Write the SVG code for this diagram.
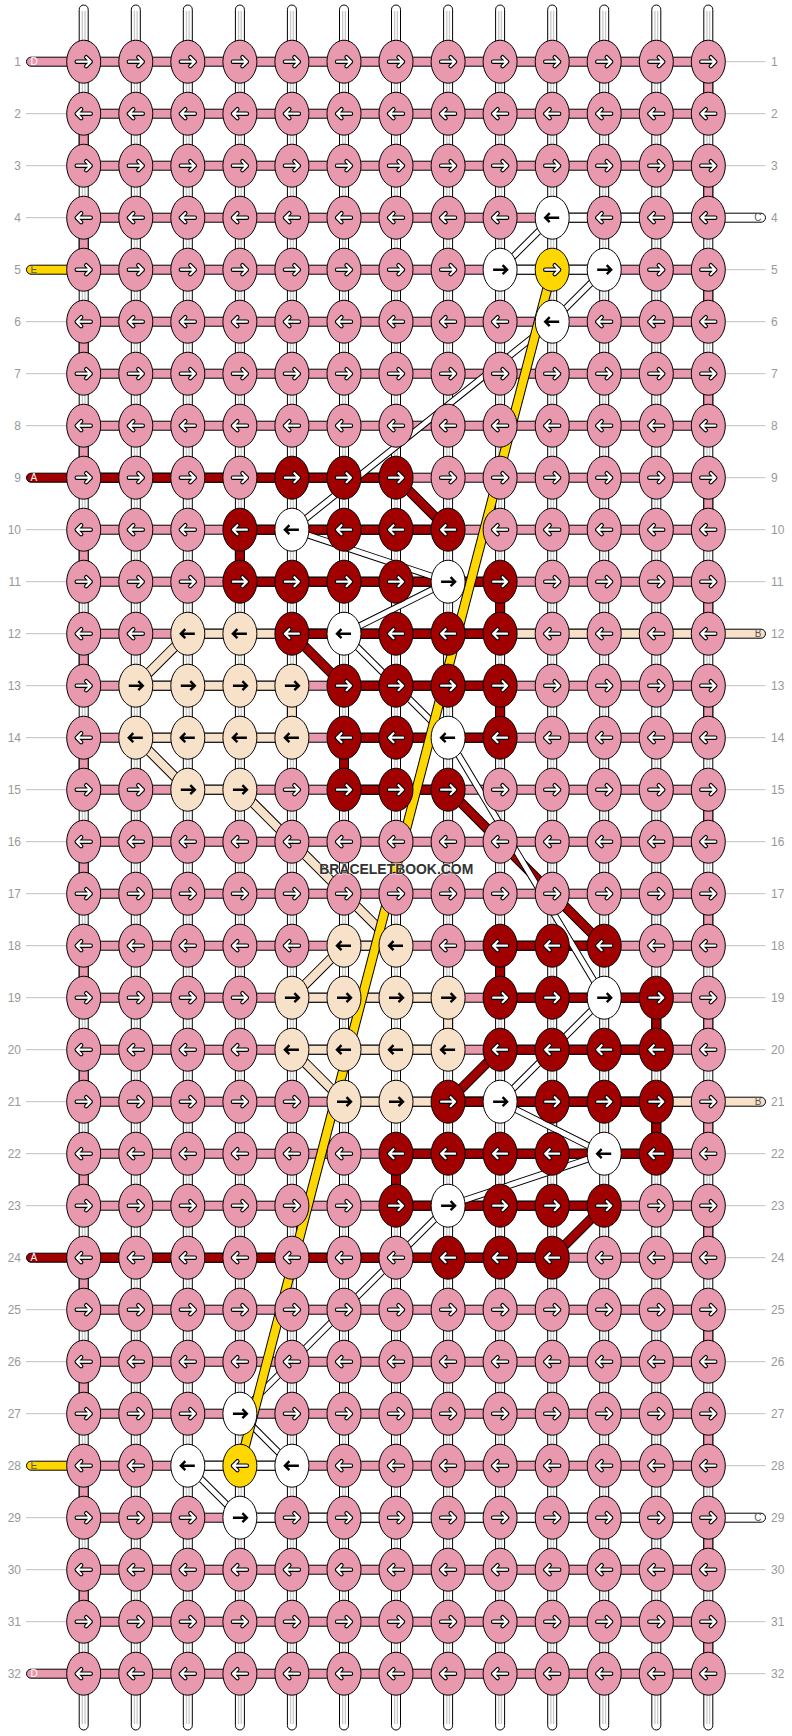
<svg xmlns="http://www.w3.org/2000/svg" width="792" height="1736" viewBox="0 0 792 1736">
<style>
.wp{fill:#fff;stroke:#000;stroke-width:1}
.s1{stroke:#c8c8c8;stroke-width:4}
.s2{stroke:#fff;stroke-width:1.4}
.gl{fill:none;stroke:#c0c0c0;stroke-width:1}
.lb{font-family:"Liberation Sans",Arial,sans-serif;font-size:12px;fill:#999}
.le{font-family:"Liberation Sans",Arial,sans-serif;font-size:10px;fill:#fff}
.ld{font-family:"Liberation Sans",Arial,sans-serif;font-size:10px;fill:#555}
.hp{fill:#e899ae;stroke:#000;stroke-width:1}
.hr{fill:#a00000;stroke:#000;stroke-width:1}
.hb{fill:#f7e1c9;stroke:#000;stroke-width:1}
.hw{fill:#fff;stroke:#000;stroke-width:1}
.hy{fill:#ffd700;stroke:#000;stroke-width:1}
.kp{fill:#e899ae;stroke:#000;stroke-width:1}
.kr{fill:#a00000;stroke:#000;stroke-width:1}
.kb{fill:#f7e1c9;stroke:#000;stroke-width:1}
.kw{fill:#fff;stroke:#000;stroke-width:1}
.ky{fill:#ffd700;stroke:#000;stroke-width:1}
.ab{fill:none;stroke:#000;stroke-width:4.4;stroke-linecap:round;stroke-linejoin:round}
.aw{fill:none;stroke:#fff;stroke-width:2.2;stroke-linecap:round;stroke-linejoin:round}
.ak{fill:none;stroke:#000;stroke-width:2.4}
.d0{fill:none;stroke:#000;stroke-width:10}
.dr{fill:none;stroke:#a00000;stroke-width:8}
.db{fill:none;stroke:#f7e1c9;stroke-width:8}
.dy{fill:none;stroke:#ffd700;stroke-width:8}
.c0{fill:none;stroke:#000;stroke-width:7;stroke-linejoin:round}
.cw{fill:none;stroke:#fff;stroke-width:5;stroke-linejoin:round}
.wm{font-family:"Liberation Sans",Arial,sans-serif;font-weight:bold;font-size:15.5px;fill:#333;stroke:#fff;stroke-width:1.5;stroke-opacity:.6;paint-order:stroke}
</style>
<defs>
<path id="ar" d="M-7,0H7M2.5,-4.5L7,0L2.5,4.5"/>
<path id="al" d="M7,0H-7M-2.5,-4.5L-7,0L-2.5,4.5"/>
<ellipse id="e" rx="17" ry="21.5"/>
<g id="oR"><use href="#ar" class="ab"/><use href="#ar" class="aw"/></g>
<g id="oL"><use href="#al" class="ab"/><use href="#al" class="aw"/></g>
<g id="pR"><use href="#e" class="kp"/><use href="#oR"/></g>
<g id="pL"><use href="#e" class="kp"/><use href="#oL"/></g>
<g id="rR"><use href="#e" class="kr"/><use href="#oR"/></g>
<g id="rL"><use href="#e" class="kr"/><use href="#oL"/></g>
<g id="yR"><use href="#e" class="ky"/><use href="#oR"/></g>
<g id="yL"><use href="#e" class="ky"/><use href="#oL"/></g>
<g id="wR"><use href="#e" class="kw"/><use href="#ar" class="ak"/></g>
<g id="wL"><use href="#e" class="kw"/><use href="#al" class="ak"/></g>
<g id="bR"><use href="#e" class="kb"/><use href="#ar" class="ak"/></g>
<g id="bL"><use href="#e" class="kb"/><use href="#al" class="ak"/></g>
</defs>
<rect width="792" height="1736" fill="#fff"/>
<g id="warps">
<rect class="wp" x="79.2" y="5" width="9" height="1725" rx="4.5"/>
<rect class="wp" x="131.3" y="5" width="9" height="1725" rx="4.5"/>
<rect class="wp" x="183.3" y="5" width="9" height="1725" rx="4.5"/>
<rect class="wp" x="235.4" y="5" width="9" height="1725" rx="4.5"/>
<rect class="wp" x="287.4" y="5" width="9" height="1725" rx="4.5"/>
<rect class="wp" x="339.5" y="5" width="9" height="1725" rx="4.5"/>
<rect class="wp" x="391.5" y="5" width="9" height="1725" rx="4.5"/>
<rect class="wp" x="443.6" y="5" width="9" height="1725" rx="4.5"/>
<rect class="wp" x="495.6" y="5" width="9" height="1725" rx="4.5"/>
<rect class="wp" x="547.7" y="5" width="9" height="1725" rx="4.5"/>
<rect class="wp" x="599.7" y="5" width="9" height="1725" rx="4.5"/>
<rect class="wp" x="651.8" y="5" width="9" height="1725" rx="4.5"/>
<rect class="wp" x="703.8" y="5" width="9" height="1725" rx="4.5"/>
<path class="s1" d="M83.7,11V1724M135.8,11V1724M187.8,11V1724M239.9,11V1724M291.9,11V1724M344,11V1724M396,11V1724M448.1,11V1724M500.1,11V1724M552.2,11V1724M604.2,11V1724M656.3,11V1724M708.3,11V1724"/>
<path class="s2" d="M83.7,11V1724M135.8,11V1724M187.8,11V1724M239.9,11V1724M291.9,11V1724M344,11V1724M396,11V1724M448.1,11V1724M500.1,11V1724M552.2,11V1724M604.2,11V1724M656.3,11V1724M708.3,11V1724"/>
</g>
<g id="guides">
<path class="gl" d="M26,113.7H80M26,165.7H80M26,217.7H80M26,321.7H80M26,373.7H80M26,425.7H80M26,529.7H80M26,581.7H80M26,633.7H80M26,685.7H80M26,737.7H80M26,789.7H80M26,841.7H80M26,893.7H80M26,945.7H80M26,997.7H80M26,1049.7H80M26,1101.7H80M26,1153.7H80M26,1205.7H80M26,1309.7H80M26,1361.7H80M26,1413.7H80M26,1517.7H80M26,1569.7H80M26,1621.7H80"/>
<path class="gl" d="M712,61.7H765.5M712,113.7H765.5M712,165.7H765.5M712,269.7H765.5M712,321.7H765.5M712,373.7H765.5M712,425.7H765.5M712,477.7H765.5M712,529.7H765.5M712,581.7H765.5M712,685.7H765.5M712,737.7H765.5M712,789.7H765.5M712,841.7H765.5M712,893.7H765.5M712,945.7H765.5M712,997.7H765.5M712,1049.7H765.5M712,1153.7H765.5M712,1205.7H765.5M712,1257.7H765.5M712,1309.7H765.5M712,1361.7H765.5M712,1413.7H765.5M712,1465.7H765.5M712,1569.7H765.5M712,1621.7H765.5M712,1673.7H765.5"/>
<g class="lb" text-anchor="end">
<text x="21" y="66">1</text><text x="21" y="118">2</text><text x="21" y="170">3</text><text x="21" y="222">4</text><text x="21" y="274">5</text><text x="21" y="326">6</text><text x="21" y="378">7</text><text x="21" y="430">8</text><text x="21" y="482">9</text><text x="21" y="534">10</text><text x="21" y="586">11</text><text x="21" y="638">12</text><text x="21" y="690">13</text><text x="21" y="742">14</text><text x="21" y="794">15</text><text x="21" y="846">16</text><text x="21" y="898">17</text><text x="21" y="950">18</text><text x="21" y="1002">19</text><text x="21" y="1054">20</text><text x="21" y="1106">21</text><text x="21" y="1158">22</text><text x="21" y="1210">23</text><text x="21" y="1262">24</text><text x="21" y="1314">25</text><text x="21" y="1366">26</text><text x="21" y="1418">27</text><text x="21" y="1470">28</text><text x="21" y="1522">29</text><text x="21" y="1574">30</text><text x="21" y="1626">31</text><text x="21" y="1678">32</text>
</g>
<g class="lb">
<text x="771" y="66">1</text><text x="771" y="118">2</text><text x="771" y="170">3</text><text x="771" y="222">4</text><text x="771" y="274">5</text><text x="771" y="326">6</text><text x="771" y="378">7</text><text x="771" y="430">8</text><text x="771" y="482">9</text><text x="771" y="534">10</text><text x="771" y="586">11</text><text x="771" y="638">12</text><text x="771" y="690">13</text><text x="771" y="742">14</text><text x="771" y="794">15</text><text x="771" y="846">16</text><text x="771" y="898">17</text><text x="771" y="950">18</text><text x="771" y="1002">19</text><text x="771" y="1054">20</text><text x="771" y="1106">21</text><text x="771" y="1158">22</text><text x="771" y="1210">23</text><text x="771" y="1262">24</text><text x="771" y="1314">25</text><text x="771" y="1366">26</text><text x="771" y="1418">27</text><text x="771" y="1470">28</text><text x="771" y="1522">29</text><text x="771" y="1574">30</text><text x="771" y="1626">31</text><text x="771" y="1678">32</text>
</g>
</g>
<g id="connectors">
<g id="rows-base">
<rect class="hp" x="83.7" y="57.2" width="624.6" height="9"/><rect class="hp" x="83.7" y="109.2" width="624.6" height="9"/><rect class="hp" x="83.7" y="161.2" width="624.6" height="9"/><rect class="hp" x="83.7" y="213.2" width="624.6" height="9"/><rect class="hp" x="83.7" y="265.2" width="624.6" height="9"/><rect class="hp" x="83.7" y="317.2" width="624.6" height="9"/><rect class="hp" x="83.7" y="369.2" width="624.6" height="9"/><rect class="hp" x="83.7" y="421.2" width="624.6" height="9"/><rect class="hp" x="83.7" y="473.2" width="624.6" height="9"/><rect class="hp" x="83.7" y="525.2" width="624.6" height="9"/><rect class="hp" x="83.7" y="577.2" width="624.6" height="9"/><rect class="hp" x="83.7" y="629.2" width="624.6" height="9"/><rect class="hp" x="83.7" y="681.2" width="624.6" height="9"/><rect class="hp" x="83.7" y="733.2" width="624.6" height="9"/><rect class="hp" x="83.7" y="785.2" width="624.6" height="9"/><rect class="hp" x="83.7" y="837.2" width="624.6" height="9"/><rect class="hp" x="83.7" y="889.2" width="624.6" height="9"/><rect class="hp" x="83.7" y="941.2" width="624.6" height="9"/><rect class="hp" x="83.7" y="993.2" width="624.6" height="9"/><rect class="hp" x="83.7" y="1045.2" width="624.6" height="9"/><rect class="hp" x="83.7" y="1097.2" width="624.6" height="9"/><rect class="hp" x="83.7" y="1149.2" width="624.6" height="9"/><rect class="hp" x="83.7" y="1201.2" width="624.6" height="9"/><rect class="hp" x="83.7" y="1253.2" width="624.6" height="9"/><rect class="hp" x="83.7" y="1305.2" width="624.6" height="9"/><rect class="hp" x="83.7" y="1357.2" width="624.6" height="9"/><rect class="hp" x="83.7" y="1409.2" width="624.6" height="9"/><rect class="hp" x="83.7" y="1461.2" width="624.6" height="9"/><rect class="hp" x="83.7" y="1513.2" width="624.6" height="9"/><rect class="hp" x="83.7" y="1565.2" width="624.6" height="9"/><rect class="hp" x="83.7" y="1617.2" width="624.6" height="9"/><rect class="hp" x="83.7" y="1669.2" width="624.6" height="9"/>
</g>
<g id="turns">
<rect class="hp" x="703.8" y="61.7" width="9" height="52"/><rect class="hp" x="703.8" y="165.7" width="9" height="52"/><rect class="hp" x="703.8" y="269.7" width="9" height="52"/><rect class="hp" x="703.8" y="373.7" width="9" height="52"/><rect class="hp" x="703.8" y="477.7" width="9" height="52"/><rect class="hp" x="703.8" y="581.7" width="9" height="52"/><rect class="hp" x="703.8" y="685.7" width="9" height="52"/><rect class="hp" x="703.8" y="789.7" width="9" height="52"/><rect class="hp" x="703.8" y="893.7" width="9" height="52"/><rect class="hp" x="703.8" y="997.7" width="9" height="52"/><rect class="hp" x="703.8" y="1101.7" width="9" height="52"/><rect class="hp" x="703.8" y="1205.7" width="9" height="52"/><rect class="hp" x="703.8" y="1309.7" width="9" height="52"/><rect class="hp" x="703.8" y="1413.7" width="9" height="52"/><rect class="hp" x="703.8" y="1517.7" width="9" height="52"/><rect class="hp" x="703.8" y="1621.7" width="9" height="52"/>
<rect class="hp" x="79.2" y="113.7" width="9" height="52"/><rect class="hp" x="79.2" y="217.7" width="9" height="52"/><rect class="hp" x="79.2" y="321.7" width="9" height="52"/><rect class="hp" x="79.2" y="425.7" width="9" height="52"/><rect class="hp" x="79.2" y="529.7" width="9" height="52"/><rect class="hp" x="79.2" y="633.7" width="9" height="52"/><rect class="hp" x="79.2" y="737.7" width="9" height="52"/><rect class="hp" x="79.2" y="841.7" width="9" height="52"/><rect class="hp" x="79.2" y="945.7" width="9" height="52"/><rect class="hp" x="79.2" y="1049.7" width="9" height="52"/><rect class="hp" x="79.2" y="1153.7" width="9" height="52"/><rect class="hp" x="79.2" y="1257.7" width="9" height="52"/><rect class="hp" x="79.2" y="1361.7" width="9" height="52"/><rect class="hp" x="79.2" y="1465.7" width="9" height="52"/><rect class="hp" x="79.2" y="1569.7" width="9" height="52"/>
<rect class="hr" x="235.4" y="529.7" width="9" height="52"/><rect class="hr" x="495.6" y="581.7" width="9" height="52"/><rect class="hr" x="495.6" y="685.7" width="9" height="52"/><rect class="hr" x="339.5" y="737.7" width="9" height="52"/><rect class="hr" x="495.6" y="945.7" width="9" height="52"/><rect class="hr" x="651.8" y="997.7" width="9" height="52"/><rect class="hr" x="651.8" y="1101.7" width="9" height="52"/><rect class="hr" x="391.5" y="1153.7" width="9" height="52"/>
<rect class="hb" x="287.4" y="685.7" width="9" height="52"/><rect class="hb" x="443.6" y="997.7" width="9" height="52"/>
</g>
<g id="rows-color">
<rect class="hw" x="552.2" y="213.2" width="156.1" height="9"/>
<rect class="hw" x="500.1" y="265.2" width="104.1" height="9"/>
<rect class="hr" x="83.7" y="473.2" width="312.3" height="9"/>
<rect class="hr" x="239.9" y="525.2" width="208.2" height="9"/>
<rect class="hr" x="239.9" y="577.2" width="260.2" height="9"/>
<rect class="hb" x="187.8" y="629.2" width="520.5" height="9"/><rect class="hr" x="291.9" y="629.2" width="208.2" height="9"/>
<rect class="hb" x="135.8" y="681.2" width="156.1" height="9"/><rect class="hr" x="344" y="681.2" width="156.1" height="9"/>
<rect class="hb" x="135.8" y="733.2" width="156.1" height="9"/><rect class="hr" x="344" y="733.2" width="156.1" height="9"/>
<rect class="hb" x="187.8" y="785.2" width="52.1" height="9"/><rect class="hr" x="344" y="785.2" width="104.1" height="9"/>
<rect class="hb" x="344" y="941.2" width="52" height="9"/><rect class="hr" x="500.1" y="941.2" width="104.1" height="9"/>
<rect class="hb" x="291.9" y="993.2" width="156.2" height="9"/><rect class="hr" x="500.1" y="993.2" width="156.2" height="9"/>
<rect class="hb" x="291.9" y="1045.2" width="156.2" height="9"/><rect class="hr" x="500.1" y="1045.2" width="156.2" height="9"/>
<rect class="hb" x="344" y="1097.2" width="364.3" height="9"/><rect class="hr" x="448.1" y="1097.2" width="208.2" height="9"/>
<rect class="hr" x="396" y="1149.2" width="260.3" height="9"/>
<rect class="hr" x="396" y="1201.2" width="208.2" height="9"/>
<rect class="hr" x="83.7" y="1253.2" width="468.5" height="9"/>
<rect class="hw" x="187.8" y="1461.2" width="104.1" height="9"/>
<rect class="hw" x="239.9" y="1513.2" width="468.4" height="9"/>
</g>
<g id="ends">
<rect class="hp" x="26.5" y="57.2" width="60" height="9" rx="4.5"/><text class="le" x="30.5" y="65.3">D</text>
<rect class="hy" x="26.5" y="265.2" width="60" height="9" rx="4.5"/><text class="ld" x="30.5" y="273.3">E</text>
<rect class="hr" x="26.5" y="473.2" width="60" height="9" rx="4.5"/><text class="le" x="30.5" y="481.3">A</text>
<rect class="hr" x="26.5" y="1253.2" width="60" height="9" rx="4.5"/><text class="le" x="30.5" y="1261.3">A</text>
<rect class="hy" x="26.5" y="1461.2" width="60" height="9" rx="4.5"/><text class="ld" x="30.5" y="1469.3">E</text>
<rect class="hp" x="26.5" y="1669.2" width="60" height="9" rx="4.5"/><text class="le" x="30.5" y="1677.3">D</text>
<rect class="hw" x="705" y="213.2" width="60.5" height="9" rx="4.5"/><text class="ld" x="761.5" y="221.3" text-anchor="end">C</text>
<rect class="hb" x="705" y="629.2" width="60.5" height="9" rx="4.5"/><text class="ld" x="761.5" y="637.3" text-anchor="end">B</text>
<rect class="hb" x="705" y="1097.2" width="60.5" height="9" rx="4.5"/><text class="ld" x="761.5" y="1105.3" text-anchor="end">B</text>
<rect class="hw" x="705" y="1513.2" width="60.5" height="9" rx="4.5"/><text class="ld" x="761.5" y="1521.3" text-anchor="end">C</text>
</g>
<g id="diagonals">
<path class="d0" d="M396,477.7L448.1,529.7M291.9,633.7L344,685.7M448.1,789.7L604.2,945.7M500.1,1049.7L448.1,1101.7M604.2,1205.7L552.2,1257.7"/>
<path class="dr" d="M396,477.7L448.1,529.7M291.9,633.7L344,685.7M448.1,789.7L604.2,945.7M500.1,1049.7L448.1,1101.7M604.2,1205.7L552.2,1257.7"/>
<path class="d0" d="M187.8,633.7L135.8,685.7M135.8,737.7L187.8,789.7M239.9,789.7L396,945.7M344,945.7L291.9,997.7M291.9,1049.7L344,1101.7"/>
<path class="db" d="M187.8,633.7L135.8,685.7M135.8,737.7L187.8,789.7M239.9,789.7L396,945.7M344,945.7L291.9,997.7M291.9,1049.7L344,1101.7"/>
<path class="c0" d="M552.2,217.7L500.1,269.7M604.2,269.7L552.2,321.7L291.9,529.7L448.1,581.7L344,633.7L448.1,737.7L604.2,997.7L500.1,1101.7L604.2,1153.7L448.1,1205.7L239.9,1413.7L291.9,1465.7M187.8,1465.7L239.9,1517.7"/>
<path class="cw" d="M552.2,217.7L500.1,269.7M604.2,269.7L552.2,321.7L291.9,529.7L448.1,581.7L344,633.7L448.1,737.7L604.2,997.7L500.1,1101.7L604.2,1153.7L448.1,1205.7L239.9,1413.7L291.9,1465.7M187.8,1465.7L239.9,1517.7"/>
<path class="d0" d="M552.2,269.7L239.9,1465.7"/>
<path class="dy" d="M552.2,269.7L239.9,1465.7"/>
</g>
</g>
<g id="knots">
<g transform="translate(0,61.7)"><g id="k1_1"><use href="#pR" x="83.7"/></g><g id="k1_2"><use href="#pR" x="135.8"/></g><g id="k1_3"><use href="#pR" x="187.8"/></g><g id="k1_4"><use href="#pR" x="239.9"/></g><g id="k1_5"><use href="#pR" x="291.9"/></g><g id="k1_6"><use href="#pR" x="344"/></g><g id="k1_7"><use href="#pR" x="396"/></g><g id="k1_8"><use href="#pR" x="448.1"/></g><g id="k1_9"><use href="#pR" x="500.1"/></g><g id="k1_10"><use href="#pR" x="552.2"/></g><g id="k1_11"><use href="#pR" x="604.2"/></g><g id="k1_12"><use href="#pR" x="656.3"/></g><g id="k1_13"><use href="#pR" x="708.3"/></g></g>
<g transform="translate(0,113.7)"><g id="k2_1"><use href="#pL" x="83.7"/></g><g id="k2_2"><use href="#pL" x="135.8"/></g><g id="k2_3"><use href="#pL" x="187.8"/></g><g id="k2_4"><use href="#pL" x="239.9"/></g><g id="k2_5"><use href="#pL" x="291.9"/></g><g id="k2_6"><use href="#pL" x="344"/></g><g id="k2_7"><use href="#pL" x="396"/></g><g id="k2_8"><use href="#pL" x="448.1"/></g><g id="k2_9"><use href="#pL" x="500.1"/></g><g id="k2_10"><use href="#pL" x="552.2"/></g><g id="k2_11"><use href="#pL" x="604.2"/></g><g id="k2_12"><use href="#pL" x="656.3"/></g><g id="k2_13"><use href="#pL" x="708.3"/></g></g>
<g transform="translate(0,165.7)"><g id="k3_1"><use href="#pR" x="83.7"/></g><g id="k3_2"><use href="#pR" x="135.8"/></g><g id="k3_3"><use href="#pR" x="187.8"/></g><g id="k3_4"><use href="#pR" x="239.9"/></g><g id="k3_5"><use href="#pR" x="291.9"/></g><g id="k3_6"><use href="#pR" x="344"/></g><g id="k3_7"><use href="#pR" x="396"/></g><g id="k3_8"><use href="#pR" x="448.1"/></g><g id="k3_9"><use href="#pR" x="500.1"/></g><g id="k3_10"><use href="#pR" x="552.2"/></g><g id="k3_11"><use href="#pR" x="604.2"/></g><g id="k3_12"><use href="#pR" x="656.3"/></g><g id="k3_13"><use href="#pR" x="708.3"/></g></g>
<g transform="translate(0,217.7)"><g id="k4_1"><use href="#pL" x="83.7"/></g><g id="k4_2"><use href="#pL" x="135.8"/></g><g id="k4_3"><use href="#pL" x="187.8"/></g><g id="k4_4"><use href="#pL" x="239.9"/></g><g id="k4_5"><use href="#pL" x="291.9"/></g><g id="k4_6"><use href="#pL" x="344"/></g><g id="k4_7"><use href="#pL" x="396"/></g><g id="k4_8"><use href="#pL" x="448.1"/></g><g id="k4_9"><use href="#pL" x="500.1"/></g><g id="k4_10"><use href="#wL" x="552.2"/></g><g id="k4_11"><use href="#pL" x="604.2"/></g><g id="k4_12"><use href="#pL" x="656.3"/></g><g id="k4_13"><use href="#pL" x="708.3"/></g></g>
<g transform="translate(0,269.7)"><g id="k5_1"><use href="#pR" x="83.7"/></g><g id="k5_2"><use href="#pR" x="135.8"/></g><g id="k5_3"><use href="#pR" x="187.8"/></g><g id="k5_4"><use href="#pR" x="239.9"/></g><g id="k5_5"><use href="#pR" x="291.9"/></g><g id="k5_6"><use href="#pR" x="344"/></g><g id="k5_7"><use href="#pR" x="396"/></g><g id="k5_8"><use href="#pR" x="448.1"/></g><g id="k5_9"><use href="#wR" x="500.1"/></g><g id="k5_10"><use href="#yR" x="552.2"/></g><g id="k5_11"><use href="#wR" x="604.2"/></g><g id="k5_12"><use href="#pR" x="656.3"/></g><g id="k5_13"><use href="#pR" x="708.3"/></g></g>
<g transform="translate(0,321.7)"><g id="k6_1"><use href="#pL" x="83.7"/></g><g id="k6_2"><use href="#pL" x="135.8"/></g><g id="k6_3"><use href="#pL" x="187.8"/></g><g id="k6_4"><use href="#pL" x="239.9"/></g><g id="k6_5"><use href="#pL" x="291.9"/></g><g id="k6_6"><use href="#pL" x="344"/></g><g id="k6_7"><use href="#pL" x="396"/></g><g id="k6_8"><use href="#pL" x="448.1"/></g><g id="k6_9"><use href="#pL" x="500.1"/></g><g id="k6_10"><use href="#wL" x="552.2"/></g><g id="k6_11"><use href="#pL" x="604.2"/></g><g id="k6_12"><use href="#pL" x="656.3"/></g><g id="k6_13"><use href="#pL" x="708.3"/></g></g>
<g transform="translate(0,373.7)"><g id="k7_1"><use href="#pR" x="83.7"/></g><g id="k7_2"><use href="#pR" x="135.8"/></g><g id="k7_3"><use href="#pR" x="187.8"/></g><g id="k7_4"><use href="#pR" x="239.9"/></g><g id="k7_5"><use href="#pR" x="291.9"/></g><g id="k7_6"><use href="#pR" x="344"/></g><g id="k7_7"><use href="#pR" x="396"/></g><g id="k7_8"><use href="#pR" x="448.1"/></g><g id="k7_9"><use href="#pR" x="500.1"/></g><g id="k7_10"><use href="#pR" x="552.2"/></g><g id="k7_11"><use href="#pR" x="604.2"/></g><g id="k7_12"><use href="#pR" x="656.3"/></g><g id="k7_13"><use href="#pR" x="708.3"/></g></g>
<g transform="translate(0,425.7)"><g id="k8_1"><use href="#pL" x="83.7"/></g><g id="k8_2"><use href="#pL" x="135.8"/></g><g id="k8_3"><use href="#pL" x="187.8"/></g><g id="k8_4"><use href="#pL" x="239.9"/></g><g id="k8_5"><use href="#pL" x="291.9"/></g><g id="k8_6"><use href="#pL" x="344"/></g><g id="k8_7"><use href="#pL" x="396"/></g><g id="k8_8"><use href="#pL" x="448.1"/></g><g id="k8_9"><use href="#pL" x="500.1"/></g><g id="k8_10"><use href="#pL" x="552.2"/></g><g id="k8_11"><use href="#pL" x="604.2"/></g><g id="k8_12"><use href="#pL" x="656.3"/></g><g id="k8_13"><use href="#pL" x="708.3"/></g></g>
<g transform="translate(0,477.7)"><g id="k9_1"><use href="#pR" x="83.7"/></g><g id="k9_2"><use href="#pR" x="135.8"/></g><g id="k9_3"><use href="#pR" x="187.8"/></g><g id="k9_4"><use href="#pR" x="239.9"/></g><g id="k9_5"><use href="#rR" x="291.9"/></g><g id="k9_6"><use href="#rR" x="344"/></g><g id="k9_7"><use href="#rR" x="396"/></g><g id="k9_8"><use href="#pR" x="448.1"/></g><g id="k9_9"><use href="#pR" x="500.1"/></g><g id="k9_10"><use href="#pR" x="552.2"/></g><g id="k9_11"><use href="#pR" x="604.2"/></g><g id="k9_12"><use href="#pR" x="656.3"/></g><g id="k9_13"><use href="#pR" x="708.3"/></g></g>
<g transform="translate(0,529.7)"><g id="k10_1"><use href="#pL" x="83.7"/></g><g id="k10_2"><use href="#pL" x="135.8"/></g><g id="k10_3"><use href="#pL" x="187.8"/></g><g id="k10_4"><use href="#rL" x="239.9"/></g><g id="k10_5"><use href="#wL" x="291.9"/></g><g id="k10_6"><use href="#rL" x="344"/></g><g id="k10_7"><use href="#rL" x="396"/></g><g id="k10_8"><use href="#rL" x="448.1"/></g><g id="k10_9"><use href="#pL" x="500.1"/></g><g id="k10_10"><use href="#pL" x="552.2"/></g><g id="k10_11"><use href="#pL" x="604.2"/></g><g id="k10_12"><use href="#pL" x="656.3"/></g><g id="k10_13"><use href="#pL" x="708.3"/></g></g>
<g transform="translate(0,581.7)"><g id="k11_1"><use href="#pR" x="83.7"/></g><g id="k11_2"><use href="#pR" x="135.8"/></g><g id="k11_3"><use href="#pR" x="187.8"/></g><g id="k11_4"><use href="#rR" x="239.9"/></g><g id="k11_5"><use href="#rR" x="291.9"/></g><g id="k11_6"><use href="#rR" x="344"/></g><g id="k11_7"><use href="#rR" x="396"/></g><g id="k11_8"><use href="#wR" x="448.1"/></g><g id="k11_9"><use href="#rR" x="500.1"/></g><g id="k11_10"><use href="#pR" x="552.2"/></g><g id="k11_11"><use href="#pR" x="604.2"/></g><g id="k11_12"><use href="#pR" x="656.3"/></g><g id="k11_13"><use href="#pR" x="708.3"/></g></g>
<g transform="translate(0,633.7)"><g id="k12_1"><use href="#pL" x="83.7"/></g><g id="k12_2"><use href="#pL" x="135.8"/></g><g id="k12_3"><use href="#bL" x="187.8"/></g><g id="k12_4"><use href="#bL" x="239.9"/></g><g id="k12_5"><use href="#rL" x="291.9"/></g><g id="k12_6"><use href="#wL" x="344"/></g><g id="k12_7"><use href="#rL" x="396"/></g><g id="k12_8"><use href="#rL" x="448.1"/></g><g id="k12_9"><use href="#rL" x="500.1"/></g><g id="k12_10"><use href="#pL" x="552.2"/></g><g id="k12_11"><use href="#pL" x="604.2"/></g><g id="k12_12"><use href="#pL" x="656.3"/></g><g id="k12_13"><use href="#pL" x="708.3"/></g></g>
<g transform="translate(0,685.7)"><g id="k13_1"><use href="#pR" x="83.7"/></g><g id="k13_2"><use href="#bR" x="135.8"/></g><g id="k13_3"><use href="#bR" x="187.8"/></g><g id="k13_4"><use href="#bR" x="239.9"/></g><g id="k13_5"><use href="#bR" x="291.9"/></g><g id="k13_6"><use href="#rR" x="344"/></g><g id="k13_7"><use href="#rR" x="396"/></g><g id="k13_8"><use href="#rR" x="448.1"/></g><g id="k13_9"><use href="#rR" x="500.1"/></g><g id="k13_10"><use href="#pR" x="552.2"/></g><g id="k13_11"><use href="#pR" x="604.2"/></g><g id="k13_12"><use href="#pR" x="656.3"/></g><g id="k13_13"><use href="#pR" x="708.3"/></g></g>
<g transform="translate(0,737.7)"><g id="k14_1"><use href="#pL" x="83.7"/></g><g id="k14_2"><use href="#bL" x="135.8"/></g><g id="k14_3"><use href="#bL" x="187.8"/></g><g id="k14_4"><use href="#bL" x="239.9"/></g><g id="k14_5"><use href="#bL" x="291.9"/></g><g id="k14_6"><use href="#rL" x="344"/></g><g id="k14_7"><use href="#rL" x="396"/></g><g id="k14_8"><use href="#wL" x="448.1"/></g><g id="k14_9"><use href="#rL" x="500.1"/></g><g id="k14_10"><use href="#pL" x="552.2"/></g><g id="k14_11"><use href="#pL" x="604.2"/></g><g id="k14_12"><use href="#pL" x="656.3"/></g><g id="k14_13"><use href="#pL" x="708.3"/></g></g>
<g transform="translate(0,789.7)"><g id="k15_1"><use href="#pR" x="83.7"/></g><g id="k15_2"><use href="#pR" x="135.8"/></g><g id="k15_3"><use href="#bR" x="187.8"/></g><g id="k15_4"><use href="#bR" x="239.9"/></g><g id="k15_5"><use href="#pR" x="291.9"/></g><g id="k15_6"><use href="#rR" x="344"/></g><g id="k15_7"><use href="#rR" x="396"/></g><g id="k15_8"><use href="#rR" x="448.1"/></g><g id="k15_9"><use href="#pR" x="500.1"/></g><g id="k15_10"><use href="#pR" x="552.2"/></g><g id="k15_11"><use href="#pR" x="604.2"/></g><g id="k15_12"><use href="#pR" x="656.3"/></g><g id="k15_13"><use href="#pR" x="708.3"/></g></g>
<g transform="translate(0,841.7)"><g id="k16_1"><use href="#pL" x="83.7"/></g><g id="k16_2"><use href="#pL" x="135.8"/></g><g id="k16_3"><use href="#pL" x="187.8"/></g><g id="k16_4"><use href="#pL" x="239.9"/></g><g id="k16_5"><use href="#pL" x="291.9"/></g><g id="k16_6"><use href="#pL" x="344"/></g><g id="k16_7"><use href="#pL" x="396"/></g><g id="k16_8"><use href="#pL" x="448.1"/></g><g id="k16_9"><use href="#pL" x="500.1"/></g><g id="k16_10"><use href="#pL" x="552.2"/></g><g id="k16_11"><use href="#pL" x="604.2"/></g><g id="k16_12"><use href="#pL" x="656.3"/></g><g id="k16_13"><use href="#pL" x="708.3"/></g></g>
<g transform="translate(0,893.7)"><g id="k17_1"><use href="#pR" x="83.7"/></g><g id="k17_2"><use href="#pR" x="135.8"/></g><g id="k17_3"><use href="#pR" x="187.8"/></g><g id="k17_4"><use href="#pR" x="239.9"/></g><g id="k17_5"><use href="#pR" x="291.9"/></g><g id="k17_6"><use href="#pR" x="344"/></g><g id="k17_7"><use href="#pR" x="396"/></g><g id="k17_8"><use href="#pR" x="448.1"/></g><g id="k17_9"><use href="#pR" x="500.1"/></g><g id="k17_10"><use href="#pR" x="552.2"/></g><g id="k17_11"><use href="#pR" x="604.2"/></g><g id="k17_12"><use href="#pR" x="656.3"/></g><g id="k17_13"><use href="#pR" x="708.3"/></g></g>
<g transform="translate(0,945.7)"><g id="k18_1"><use href="#pL" x="83.7"/></g><g id="k18_2"><use href="#pL" x="135.8"/></g><g id="k18_3"><use href="#pL" x="187.8"/></g><g id="k18_4"><use href="#pL" x="239.9"/></g><g id="k18_5"><use href="#pL" x="291.9"/></g><g id="k18_6"><use href="#bL" x="344"/></g><g id="k18_7"><use href="#bL" x="396"/></g><g id="k18_8"><use href="#pL" x="448.1"/></g><g id="k18_9"><use href="#rL" x="500.1"/></g><g id="k18_10"><use href="#rL" x="552.2"/></g><g id="k18_11"><use href="#rL" x="604.2"/></g><g id="k18_12"><use href="#pL" x="656.3"/></g><g id="k18_13"><use href="#pL" x="708.3"/></g></g>
<g transform="translate(0,997.7)"><g id="k19_1"><use href="#pR" x="83.7"/></g><g id="k19_2"><use href="#pR" x="135.8"/></g><g id="k19_3"><use href="#pR" x="187.8"/></g><g id="k19_4"><use href="#pR" x="239.9"/></g><g id="k19_5"><use href="#bR" x="291.9"/></g><g id="k19_6"><use href="#bR" x="344"/></g><g id="k19_7"><use href="#bR" x="396"/></g><g id="k19_8"><use href="#bR" x="448.1"/></g><g id="k19_9"><use href="#rR" x="500.1"/></g><g id="k19_10"><use href="#rR" x="552.2"/></g><g id="k19_11"><use href="#wR" x="604.2"/></g><g id="k19_12"><use href="#rR" x="656.3"/></g><g id="k19_13"><use href="#pR" x="708.3"/></g></g>
<g transform="translate(0,1049.7)"><g id="k20_1"><use href="#pL" x="83.7"/></g><g id="k20_2"><use href="#pL" x="135.8"/></g><g id="k20_3"><use href="#pL" x="187.8"/></g><g id="k20_4"><use href="#pL" x="239.9"/></g><g id="k20_5"><use href="#bL" x="291.9"/></g><g id="k20_6"><use href="#bL" x="344"/></g><g id="k20_7"><use href="#bL" x="396"/></g><g id="k20_8"><use href="#bL" x="448.1"/></g><g id="k20_9"><use href="#rL" x="500.1"/></g><g id="k20_10"><use href="#rL" x="552.2"/></g><g id="k20_11"><use href="#rL" x="604.2"/></g><g id="k20_12"><use href="#rL" x="656.3"/></g><g id="k20_13"><use href="#pL" x="708.3"/></g></g>
<g transform="translate(0,1101.7)"><g id="k21_1"><use href="#pR" x="83.7"/></g><g id="k21_2"><use href="#pR" x="135.8"/></g><g id="k21_3"><use href="#pR" x="187.8"/></g><g id="k21_4"><use href="#pR" x="239.9"/></g><g id="k21_5"><use href="#pR" x="291.9"/></g><g id="k21_6"><use href="#bR" x="344"/></g><g id="k21_7"><use href="#bR" x="396"/></g><g id="k21_8"><use href="#rR" x="448.1"/></g><g id="k21_9"><use href="#wR" x="500.1"/></g><g id="k21_10"><use href="#rR" x="552.2"/></g><g id="k21_11"><use href="#rR" x="604.2"/></g><g id="k21_12"><use href="#rR" x="656.3"/></g><g id="k21_13"><use href="#pR" x="708.3"/></g></g>
<g transform="translate(0,1153.7)"><g id="k22_1"><use href="#pL" x="83.7"/></g><g id="k22_2"><use href="#pL" x="135.8"/></g><g id="k22_3"><use href="#pL" x="187.8"/></g><g id="k22_4"><use href="#pL" x="239.9"/></g><g id="k22_5"><use href="#pL" x="291.9"/></g><g id="k22_6"><use href="#pL" x="344"/></g><g id="k22_7"><use href="#rL" x="396"/></g><g id="k22_8"><use href="#rL" x="448.1"/></g><g id="k22_9"><use href="#rL" x="500.1"/></g><g id="k22_10"><use href="#rL" x="552.2"/></g><g id="k22_11"><use href="#wL" x="604.2"/></g><g id="k22_12"><use href="#rL" x="656.3"/></g><g id="k22_13"><use href="#pL" x="708.3"/></g></g>
<g transform="translate(0,1205.7)"><g id="k23_1"><use href="#pR" x="83.7"/></g><g id="k23_2"><use href="#pR" x="135.8"/></g><g id="k23_3"><use href="#pR" x="187.8"/></g><g id="k23_4"><use href="#pR" x="239.9"/></g><g id="k23_5"><use href="#pR" x="291.9"/></g><g id="k23_6"><use href="#pR" x="344"/></g><g id="k23_7"><use href="#rR" x="396"/></g><g id="k23_8"><use href="#wR" x="448.1"/></g><g id="k23_9"><use href="#rR" x="500.1"/></g><g id="k23_10"><use href="#rR" x="552.2"/></g><g id="k23_11"><use href="#rR" x="604.2"/></g><g id="k23_12"><use href="#pR" x="656.3"/></g><g id="k23_13"><use href="#pR" x="708.3"/></g></g>
<g transform="translate(0,1257.7)"><g id="k24_1"><use href="#pL" x="83.7"/></g><g id="k24_2"><use href="#pL" x="135.8"/></g><g id="k24_3"><use href="#pL" x="187.8"/></g><g id="k24_4"><use href="#pL" x="239.9"/></g><g id="k24_5"><use href="#pL" x="291.9"/></g><g id="k24_6"><use href="#pL" x="344"/></g><g id="k24_7"><use href="#pL" x="396"/></g><g id="k24_8"><use href="#rL" x="448.1"/></g><g id="k24_9"><use href="#rL" x="500.1"/></g><g id="k24_10"><use href="#rL" x="552.2"/></g><g id="k24_11"><use href="#pL" x="604.2"/></g><g id="k24_12"><use href="#pL" x="656.3"/></g><g id="k24_13"><use href="#pL" x="708.3"/></g></g>
<g transform="translate(0,1309.7)"><g id="k25_1"><use href="#pR" x="83.7"/></g><g id="k25_2"><use href="#pR" x="135.8"/></g><g id="k25_3"><use href="#pR" x="187.8"/></g><g id="k25_4"><use href="#pR" x="239.9"/></g><g id="k25_5"><use href="#pR" x="291.9"/></g><g id="k25_6"><use href="#pR" x="344"/></g><g id="k25_7"><use href="#pR" x="396"/></g><g id="k25_8"><use href="#pR" x="448.1"/></g><g id="k25_9"><use href="#pR" x="500.1"/></g><g id="k25_10"><use href="#pR" x="552.2"/></g><g id="k25_11"><use href="#pR" x="604.2"/></g><g id="k25_12"><use href="#pR" x="656.3"/></g><g id="k25_13"><use href="#pR" x="708.3"/></g></g>
<g transform="translate(0,1361.7)"><g id="k26_1"><use href="#pL" x="83.7"/></g><g id="k26_2"><use href="#pL" x="135.8"/></g><g id="k26_3"><use href="#pL" x="187.8"/></g><g id="k26_4"><use href="#pL" x="239.9"/></g><g id="k26_5"><use href="#pL" x="291.9"/></g><g id="k26_6"><use href="#pL" x="344"/></g><g id="k26_7"><use href="#pL" x="396"/></g><g id="k26_8"><use href="#pL" x="448.1"/></g><g id="k26_9"><use href="#pL" x="500.1"/></g><g id="k26_10"><use href="#pL" x="552.2"/></g><g id="k26_11"><use href="#pL" x="604.2"/></g><g id="k26_12"><use href="#pL" x="656.3"/></g><g id="k26_13"><use href="#pL" x="708.3"/></g></g>
<g transform="translate(0,1413.7)"><g id="k27_1"><use href="#pR" x="83.7"/></g><g id="k27_2"><use href="#pR" x="135.8"/></g><g id="k27_3"><use href="#pR" x="187.8"/></g><g id="k27_4"><use href="#wR" x="239.9"/></g><g id="k27_5"><use href="#pR" x="291.9"/></g><g id="k27_6"><use href="#pR" x="344"/></g><g id="k27_7"><use href="#pR" x="396"/></g><g id="k27_8"><use href="#pR" x="448.1"/></g><g id="k27_9"><use href="#pR" x="500.1"/></g><g id="k27_10"><use href="#pR" x="552.2"/></g><g id="k27_11"><use href="#pR" x="604.2"/></g><g id="k27_12"><use href="#pR" x="656.3"/></g><g id="k27_13"><use href="#pR" x="708.3"/></g></g>
<g transform="translate(0,1465.7)"><g id="k28_1"><use href="#pL" x="83.7"/></g><g id="k28_2"><use href="#pL" x="135.8"/></g><g id="k28_3"><use href="#wL" x="187.8"/></g><g id="k28_4"><use href="#yL" x="239.9"/></g><g id="k28_5"><use href="#wL" x="291.9"/></g><g id="k28_6"><use href="#pL" x="344"/></g><g id="k28_7"><use href="#pL" x="396"/></g><g id="k28_8"><use href="#pL" x="448.1"/></g><g id="k28_9"><use href="#pL" x="500.1"/></g><g id="k28_10"><use href="#pL" x="552.2"/></g><g id="k28_11"><use href="#pL" x="604.2"/></g><g id="k28_12"><use href="#pL" x="656.3"/></g><g id="k28_13"><use href="#pL" x="708.3"/></g></g>
<g transform="translate(0,1517.7)"><g id="k29_1"><use href="#pR" x="83.7"/></g><g id="k29_2"><use href="#pR" x="135.8"/></g><g id="k29_3"><use href="#pR" x="187.8"/></g><g id="k29_4"><use href="#wR" x="239.9"/></g><g id="k29_5"><use href="#pR" x="291.9"/></g><g id="k29_6"><use href="#pR" x="344"/></g><g id="k29_7"><use href="#pR" x="396"/></g><g id="k29_8"><use href="#pR" x="448.1"/></g><g id="k29_9"><use href="#pR" x="500.1"/></g><g id="k29_10"><use href="#pR" x="552.2"/></g><g id="k29_11"><use href="#pR" x="604.2"/></g><g id="k29_12"><use href="#pR" x="656.3"/></g><g id="k29_13"><use href="#pR" x="708.3"/></g></g>
<g transform="translate(0,1569.7)"><g id="k30_1"><use href="#pL" x="83.7"/></g><g id="k30_2"><use href="#pL" x="135.8"/></g><g id="k30_3"><use href="#pL" x="187.8"/></g><g id="k30_4"><use href="#pL" x="239.9"/></g><g id="k30_5"><use href="#pL" x="291.9"/></g><g id="k30_6"><use href="#pL" x="344"/></g><g id="k30_7"><use href="#pL" x="396"/></g><g id="k30_8"><use href="#pL" x="448.1"/></g><g id="k30_9"><use href="#pL" x="500.1"/></g><g id="k30_10"><use href="#pL" x="552.2"/></g><g id="k30_11"><use href="#pL" x="604.2"/></g><g id="k30_12"><use href="#pL" x="656.3"/></g><g id="k30_13"><use href="#pL" x="708.3"/></g></g>
<g transform="translate(0,1621.7)"><g id="k31_1"><use href="#pR" x="83.7"/></g><g id="k31_2"><use href="#pR" x="135.8"/></g><g id="k31_3"><use href="#pR" x="187.8"/></g><g id="k31_4"><use href="#pR" x="239.9"/></g><g id="k31_5"><use href="#pR" x="291.9"/></g><g id="k31_6"><use href="#pR" x="344"/></g><g id="k31_7"><use href="#pR" x="396"/></g><g id="k31_8"><use href="#pR" x="448.1"/></g><g id="k31_9"><use href="#pR" x="500.1"/></g><g id="k31_10"><use href="#pR" x="552.2"/></g><g id="k31_11"><use href="#pR" x="604.2"/></g><g id="k31_12"><use href="#pR" x="656.3"/></g><g id="k31_13"><use href="#pR" x="708.3"/></g></g>
<g transform="translate(0,1673.7)"><g id="k32_1"><use href="#pL" x="83.7"/></g><g id="k32_2"><use href="#pL" x="135.8"/></g><g id="k32_3"><use href="#pL" x="187.8"/></g><g id="k32_4"><use href="#pL" x="239.9"/></g><g id="k32_5"><use href="#pL" x="291.9"/></g><g id="k32_6"><use href="#pL" x="344"/></g><g id="k32_7"><use href="#pL" x="396"/></g><g id="k32_8"><use href="#pL" x="448.1"/></g><g id="k32_9"><use href="#pL" x="500.1"/></g><g id="k32_10"><use href="#pL" x="552.2"/></g><g id="k32_11"><use href="#pL" x="604.2"/></g><g id="k32_12"><use href="#pL" x="656.3"/></g><g id="k32_13"><use href="#pL" x="708.3"/></g></g>
</g>
<text class="wm" x="319.3" y="873.5" textLength="154" lengthAdjust="spacingAndGlyphs">BRACELETBOOK.COM</text>
</svg>
